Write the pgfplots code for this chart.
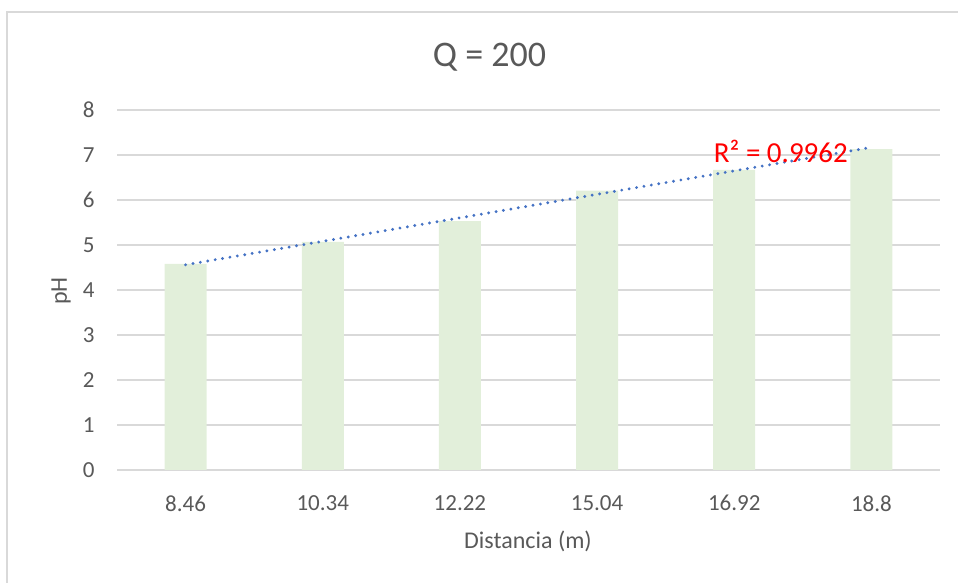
\documentclass[border=0pt]{standalone}
\usepackage{pgfplots}
\pgfplotsset{compat=1.18}
\usepackage{fontspec}
\setmainfont{Carlito}
\definecolor{txt}{HTML}{595959}
\definecolor{gridc}{HTML}{D9D9D9}
\definecolor{barc}{HTML}{E2EFDA}
\definecolor{trend}{HTML}{4472C4}
\begin{document}
\begin{tikzpicture}
\useasboundingbox (0,0) rectangle (479pt,291.5pt);
\draw[gridc, line width=1pt] (3.5pt,0) -- (3.5pt,285.5pt) -- (479pt,285.5pt);
\begin{axis}[
  at={(58.5pt,56.5pt)}, anchor=origin,
  width=411.5pt, height=180pt, scale only axis,
  xmin=0.5, xmax=6.5, ymin=0, ymax=8,
  xtick={1,2,3,4,5,6},
  xticklabels={8.46,10.34,12.22,15.04,16.92,18.8},
  ytick={0,1,...,8},
  axis line style={draw=none},
  axis x line*=bottom, axis y line*=left,
  major tick length=0pt,
  xmajorgrids=false, ymajorgrids=true,
  grid style={draw=gridc, line width=0.8pt},
  /pgf/number format/assume math mode=true,
  tick label style={font=\fontsize{11.5}{13}\selectfont, text=txt, inner sep=0pt},
  yticklabel style={xshift=-11pt},
  xticklabel style={yshift=-12.5pt},
  clip=false,
]
\addplot[ybar, bar width=21pt, fill=barc, draw=none] coordinates {
  (1,4.58) (2,5.07) (3,5.53) (4,6.21) (5,6.67) (6,7.13)};
\addplot[trend, line width=1.6pt, line cap=round, dash pattern=on 0pt off 3.75pt] coordinates {
  (1,4.56) (6,7.17)};
\node[text=red, font=\fontsize{14.5}{16}\selectfont, inner sep=0pt] at (axis cs:5.34,7.08) {R² = 0.9962};
\end{axis}
\node[text=txt, font=\fontsize{18}{20}\selectfont] at (244.75pt,263pt) {Q = 200};
\node[text=txt, font=\fontsize{12}{14}\selectfont, rotate=90] at (30.5pt,146pt) {pH};
\node[text=txt, font=\fontsize{12}{14}\selectfont] at (264pt,21pt) {Distancia (m)};
\end{tikzpicture}
\end{document}
